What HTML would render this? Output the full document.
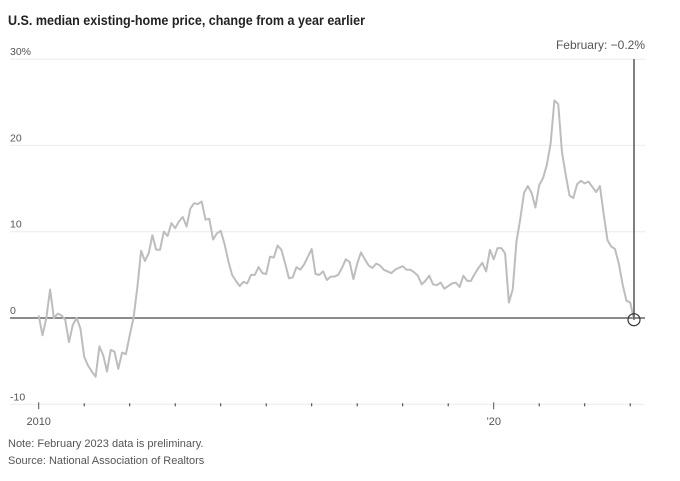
<!DOCTYPE html>
<html><head><meta charset="utf-8"><style>
body{margin:0;background:#fff;width:680px;height:481px;overflow:hidden}
svg{display:block;font-family:"Liberation Sans",sans-serif}
</style></head><body>
<svg id="chart" width="680" height="481" viewBox="0 0 680 481">
<text x="8" y="25" font-size="14" font-weight="bold" fill="#222" textLength="357" lengthAdjust="spacingAndGlyphs">U.S. median existing-home price, change from a year earlier</text>
<g id="grid"></g>
<g id="axes"></g>
<polyline id="series" fill="none" stroke="#bdbdbd" stroke-width="2" stroke-linejoin="round"></polyline>
<line id="marker" stroke="#555" stroke-width="1.5"></line>
<circle id="dot" r="6" fill="none" stroke="#333" stroke-width="1.2"></circle>
<text id="annot" x="645" y="49" font-size="12" fill="#555" text-anchor="end">February: −0.2%</text>
<text x="8" y="447" font-size="11" fill="#555">Note: February 2023 data is preliminary.</text>
<text x="8" y="464" font-size="11" fill="#555">Source: National Association of Realtors</text>
</svg>
<script>
const yTicks=[30,20,10,0,-10];
const yTickLabels=["30%","20","10","0","-10"];
const startYear=2010;
const xTickLabels={2010:"2010",2020:"’20"};
const values=[
0.3,-2,0,3.3,0,0.5,0.3,-0.2,-2.8,-0.8,0,-1.2,
-4.5,-5.5,-6.2,-6.8,-3.3,-4.3,-6.2,-3.7,-3.9,-5.9,-4,-4.2,
-2,0,3.5,7.8,6.6,7.5,9.6,7.9,7.9,10,9.5,11,
10.4,11.2,11.7,10.6,12.7,13.3,13.2,13.5,11.4,11.5,9.1,9.8,
10.1,8.6,6.6,5,4.3,3.7,4.2,4,5,5,5.9,5.2,
5.1,7.1,7,8.4,7.9,6.3,4.6,4.7,5.9,5.6,6.2,7.1,
8,5.1,5,5.4,4.4,4.8,4.8,5.0,5.8,6.8,6.5,4.5,
6.3,7.6,6.8,6.1,5.8,6.3,6.1,5.6,5.4,5.2,5.6,5.8,
6,5.6,5.6,5.3,4.9,3.9,4.3,4.9,3.9,3.8,4.1,3.4,
3.7,4,4.1,3.6,4.9,4.3,4.3,5.1,5.8,6.4,5.4,7.9,
6.8,8.1,8.1,7.5,1.8,3.3,8.9,11.4,14.5,15.3,14.5,12.8,
15.4,16.2,17.7,20.2,25.2,24.8,19.2,16.6,14.2,13.9,15.5,15.9,
15.6,15.8,15.2,14.6,15.3,12,9,8.3,8,6.3,3.9,2.0,
1.8,-0.2];
const NS="http://www.w3.org/2000/svg";
const x=i=>38.7+i*(45.5/12);
const y=v=>318-v*8.63;
const grid=document.getElementById('grid'),axes=document.getElementById('axes');
function mk(tag,attrs,parent){const e=document.createElementNS(NS,tag);for(const k in attrs)e.setAttribute(k,attrs[k]);parent.appendChild(e);return e;}
yTicks.forEach((t,i)=>{
  const l=mk('line',{x1:10,x2:645,y1:y(t),y2:y(t),stroke:t===0?'#666':'#ebebeb','stroke-width':t===0?1.5:1},grid);
  
  
  const tx=mk('text',{x:10,y:y(t)-4,'font-size':10.5,fill:'#555'},axes);
  tx.textContent=yTickLabels[i];
  
  
});
for(let yr=2010;yr<=2023;yr++){
  const xi=x((yr-startYear)*12);
  const big=!!xTickLabels[yr];
  const tk=mk('line',{x1:xi,x2:xi,y1:y(-10)-(big?2:1),y2:y(-10)+(big?5:2),stroke:big?'#555':'#333','stroke-width':1},axes);
  
  
  if(big){const t=mk('text',{x:xi,y:425,'font-size':11,fill:'#555','text-anchor':'middle'},axes);
    t.textContent=xTickLabels[yr];
    
    }
}
document.getElementById('series').setAttribute('points',values.map((v,i)=>x(i).toFixed(1)+','+y(v).toFixed(1)).join(' '));
const li=values.length-1;
const m=document.getElementById('marker');
m.setAttribute('x1',x(li));m.setAttribute('x2',x(li));m.setAttribute('y1',y(30));m.setAttribute('y2',y(values[li]));
const d=document.getElementById('dot');d.setAttribute('cx',x(li));d.setAttribute('cy',y(values[li]));
</script>
</body></html>
